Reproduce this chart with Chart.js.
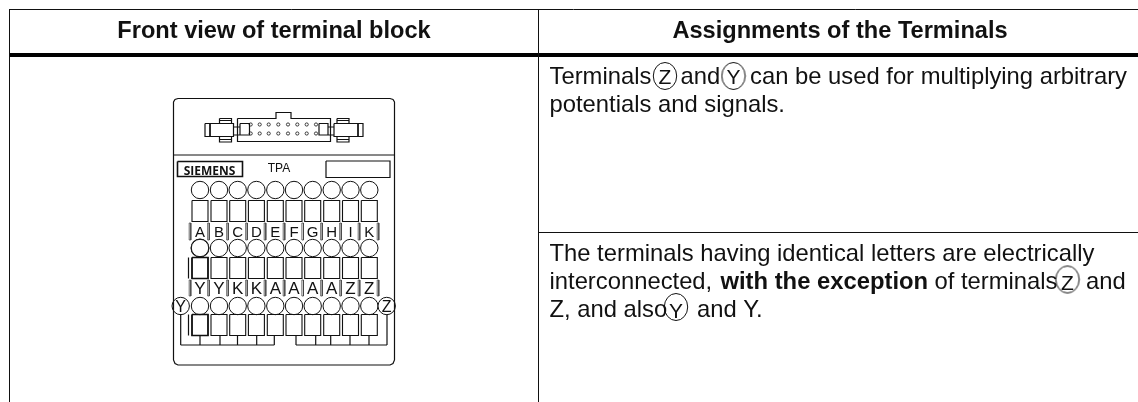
<!DOCTYPE html>
<html>
<head>
<meta charset="utf-8">
<title>Terminal block TPA</title>
<script src="https://cdn.jsdelivr.net/npm/chart.js@4/dist/chart.umd.min.js"></script>
<style>
    html, body { margin: 0; padding: 0; background: #fff; }
    canvas { display: block; }
</style>
</head>
<body>
<canvas id="myChart" width="1138" height="402"></canvas>
<script>
//Table rules: [x0, y0, x1, y1]
const thinRules = [[9, 9.5, 1138, 9.5], [9.5, 9, 9.5, 402], [538.5, 9, 538.5, 402], [538, 232.5, 1138, 232.5]];
const thickRules = [[9, 55, 1138, 55]];

//Terminal columns
const terminalX = [200, 219, 237.7, 256.4, 275.3, 294, 312.7, 331.7, 350.5, 369.3];
const circleRowY = [190, 248, 306];
const sideTerminalX = [180.7, 386.7];
const squareRows = [[200.5, 221.5], [257.5, 278.5], [314.5, 335.5]];
const letterTickX = [190, 208.5, 227.5, 246.5, 265, 284, 302.7, 321.5, 340.5, 359, 378];
const letterTickRows = [[223, 240], [280, 296]];
const topLetters = ['A', 'B', 'C', 'D', 'E', 'F', 'G', 'H', 'I', 'K'];
const bottomLetters = ['Y', 'Y', 'K', 'K', 'A', 'A', 'A', 'A', 'Z', 'Z'];

//Housing and connector outlines
const housing = [[178, 98.5], [175, 99.5], [173.5, 102], [173.5, 360], [175, 363.5], [178, 365], [390, 365], [393, 363.5], [394.5, 360], [394.5, 102], [393, 99.5], [390, 98.5], [178, 98.5]];
const housingLine = [[173.5, 155], [394.5, 155]];
const connectorBody = [[237.5, 118.5], [276, 118.5], [276, 112.5], [291, 112.5], [291, 118.5], [330.5, 118.5], [330.5, 141.5], [237.5, 141.5], [237.5, 118.5]];
const connectorBoxes = [
    [205, 123.5, 233.5, 136.5], [233.5, 127, 240, 135], [240, 123.5, 249.5, 135], [334, 123.5, 363, 136.5], [328, 127, 334, 135], [319, 123.5, 328, 135],
    [219.5, 118.5, 231.5, 123.5], [219.5, 136.5, 231.5, 142], [337, 118.5, 349, 123.5], [337, 136.5, 349, 142],
    [326, 161, 390, 177.5]
];
const nameBox = [[177.5, 161.5, 242.5, 176.5]];
const connectorLines = [[210, 123.5, 210, 136.5], [358, 123.5, 358, 136.5], [219.5, 120.5, 231.5, 120.5], [219.5, 139.5, 231.5, 139.5], [337, 120.5, 349, 120.5], [337, 139.5, 349, 139.5]];
const pinX = [250.7, 259.7, 268.7, 278.3, 288, 297.3, 306.7, 316];
const pinY = [124.5, 133.5];

//Wiring under the last row
const wiringLines = [
    [180.7, 345, 274.3, 345], [296, 345, 387, 345], [180.7, 314, 180.7, 345], [387, 314, 387, 345],
    [200, 335.5, 200, 345], [220, 335.5, 220, 345], [237.5, 335.5, 237.5, 345], [256.7, 335.5, 256.7, 345], [274.3, 335.5, 274.3, 345],
    [296, 335.5, 296, 345], [315.7, 335.5, 315.7, 345], [330.7, 335.5, 330.7, 345], [350, 335.5, 350, 345], [369, 335.5, 369, 345],
    [188.5, 314.5, 188.5, 335.5], [188.5, 257.5, 188.5, 278.5]
];

//A few terminals are drawn heavier in the original
const heavySquares = [[192, 257.5, 208, 278.5], [192, 314.5, 208, 335.5]];
const heavyCircles = [[200, 248]];

//Circled letters in the text column
const inlineCircles = [[665, 76], [733.5, 76], [1067.5, 279.5], [676, 307]];

//Texts: [text, x, baseline y, font, align]
const headerFont = 'bold 23.6px "Liberation Sans"';
const bodyFont = '23.8px "Liberation Sans"';
const bodyBold = 'bold 23.8px "Liberation Sans"';
const circledFont = '21px "Liberation Sans"';
const texts = [
    ['Front view of terminal block', 274, 37.5, headerFont, 'center'],
    ['Assignments of the Terminals', 840, 37.5, headerFont, 'center'],
    ['Terminals', 549.5, 83.5, bodyFont, 'left'],
    ['Z', 665, 84, circledFont, 'center'],
    ['and', 680.5, 83.5, bodyFont, 'left'],
    ['Y', 733.5, 84, circledFont, 'center'],
    ['can be used for multiplying arbitrary', 750, 83.5, bodyFont, 'left'],
    ['potentials and signals.', 549.5, 111.5, bodyFont, 'left'],
    ['The terminals having identical letters are electrically', 549.5, 260.5, bodyFont, 'left'],
    ['interconnected, ', 549.5, 288.5, bodyFont, 'left'],
    ['with the exception', 720.5, 288.5, bodyBold, 'left'],
    ['of terminals', 934.5, 288.5, bodyFont, 'left'],
    ['Z', 1067.5, 290, circledFont, 'center'],
    ['and', 1086, 288.5, bodyFont, 'left'],
    ['Z, and also', 549.5, 316.5, bodyFont, 'left'],
    ['Y', 676, 318, circledFont, 'center'],
    ['and Y.', 697, 316.5, bodyFont, 'left'],
    ['SIEMENS', 209.5, 175, 'bold 12px "Open Sans"', 'center'],
    ['TPA', 279, 172, '12px "Liberation Sans"', 'center'],
    ['Y', 180.7, 312, '16px "Liberation Sans"', 'center'],
    ['Z', 386.7, 312, '16px "Liberation Sans"', 'center']
];
topLetters.forEach((l, i) => texts.push([l, terminalX[i], 237, '15px "Liberation Sans"', 'center']));
bottomLetters.forEach((l, i) => texts.push([l, terminalX[i], 294, '17px "Liberation Sans"', 'center']));

//####################################################################### HELPERS
const gap = { x: null, y: null };

function segments(list) {
    const out = [];
    list.forEach(s => out.push({ x: s[0], y: s[1] }, { x: s[2], y: s[3] }, gap));
    return out;
}

function boxes(list) {
    const out = [];
    list.forEach(b => out.push({ x: b[0], y: b[1] }, { x: b[2], y: b[1] }, { x: b[2], y: b[3] }, { x: b[0], y: b[3] }, { x: b[0], y: b[1] }, gap));
    return out;
}

function path(list) {
    return list.map(p => ({ x: p[0], y: p[1] }));
}

function lineSet(data, width, color) {
    return { type: 'line', data: data, borderColor: color || '#111', borderWidth: width, pointRadius: 0, spanGaps: false, tension: 0, fill: false };
}

function pointSet(data, radius, width) {
    return { type: 'scatter', data: data, pointStyle: 'circle', pointRadius: radius, pointBorderWidth: width, pointBorderColor: '#111', pointBackgroundColor: '#fff', showLine: false };
}

//Inline circles are a bit taller than wide, so they get their own point image
function ellipseMark() {
    const c = document.createElement('canvas');
    c.width = 26;
    c.height = 30;
    const g = c.getContext('2d');
    g.strokeStyle = '#111';
    g.lineWidth = 1;
    g.beginPath();
    g.ellipse(13, 15, 11.7, 13.5, 0, 0, Math.PI * 2);
    g.stroke();
    return c;
}

const squares = [];
squareRows.forEach(r => terminalX.forEach(x => squares.push([x - 8, r[0], x + 8, r[1]])));
const ticks = [];
letterTickRows.forEach(r => letterTickX.forEach(x => ticks.push([x - 0.8, r[0], x + 0.8, r[1]])));

const circles = [];
circleRowY.forEach(y => terminalX.forEach(x => circles.push({ x: x, y: y })));
sideTerminalX.forEach(x => circles.push({ x: x, y: circleRowY[2] }));
const pins = [];
pinY.forEach(y => pinX.forEach(x => pins.push({ x: x, y: y })));

//Draws the texts through the chart's own scales
const textPlugin = {
    id: 'textPlugin',
    afterDatasetsDraw(chart) {
        const ctx = chart.ctx;
        ctx.save();
        ctx.fillStyle = '#111';
        ctx.textBaseline = 'alphabetic';
        texts.forEach(t => {
            ctx.font = t[3];
            ctx.textAlign = t[4];
            ctx.fillText(t[0], chart.scales.x.getPixelForValue(t[1]), chart.scales.y.getPixelForValue(t[2]));
        });
        ctx.restore();
    }
};

new Chart(document.getElementById('myChart').getContext('2d'), {
    data: {
        datasets: [
            lineSet(segments(thinRules), 1),
            lineSet(segments(thickRules), 4, '#000'),
            lineSet(path(housing), 1.2),
            lineSet(path(housingLine), 1),
            lineSet(path(connectorBody), 1.2),
            lineSet(boxes(connectorBoxes), 1.2),
            lineSet(boxes(nameBox), 1.6),
            lineSet(segments(connectorLines), 1),
            lineSet(boxes(squares), 1.1),
            lineSet(boxes(heavySquares), 1.6),
            lineSet(boxes(ticks), 0.8, '#444'),
            lineSet(segments(wiringLines), 1.2),
            pointSet(circles, 8.7, 1),
            pointSet(path(heavyCircles), 8.7, 1.6),
            pointSet(pins, 1.6, 0.8),
            { type: 'scatter', data: path(inlineCircles), pointStyle: ellipseMark(), showLine: false }
        ]
    },
    options: {
        responsive: false,
        animation: false,
        layout: { padding: 0, autoPadding: false },
        plugins: { legend: { display: false }, tooltip: { enabled: false } },
        scales: {
            x: { type: 'linear', min: 0, max: 1138, display: false },
            y: { type: 'linear', min: 0, max: 402, reverse: true, display: false }
        }
    },
    plugins: [textPlugin]
});
</script>
</body>
</html>
